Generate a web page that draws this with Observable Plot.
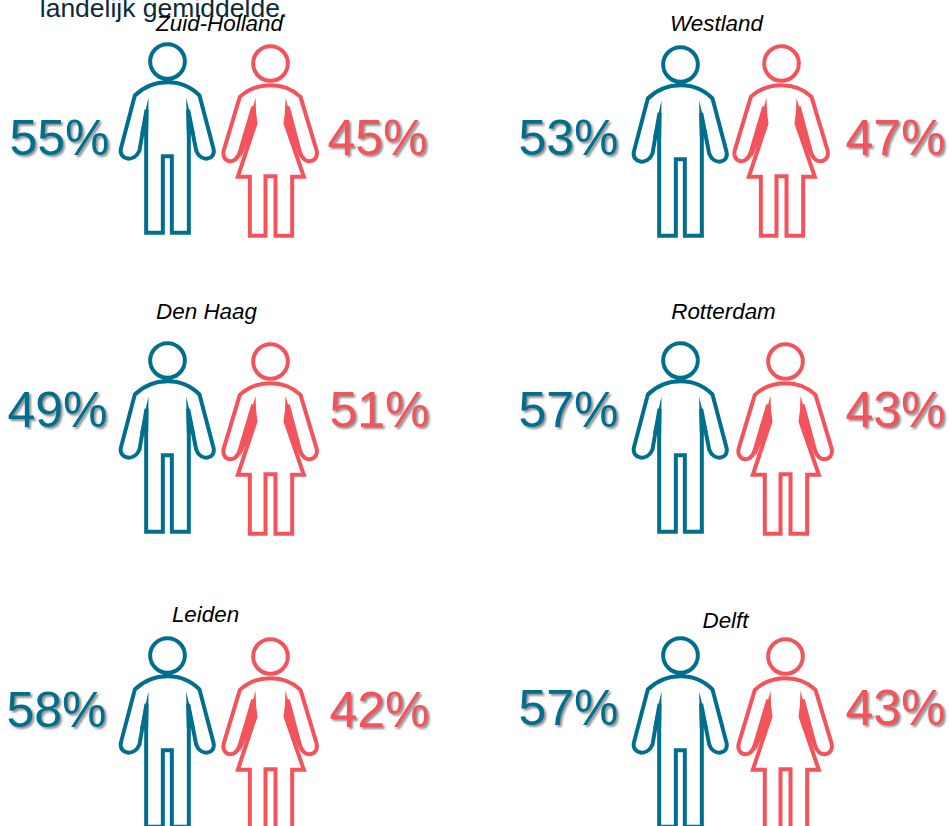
<!DOCTYPE html>
<html>
<head>
<meta charset="utf-8">
<script src="https://cdn.jsdelivr.net/npm/d3@7"></script>
<script src="https://cdn.jsdelivr.net/npm/@observablehq/plot@0.6"></script>
<style>html,body{margin:0;padding:0;background:#fff}svg{display:block}</style>
</head>
<body>
<div id="chart"></div>
<script>
// values
const regions = ["Zuid-Holland", "Westland", "Den Haag", "Rotterdam", "Leiden", "Delft"];
const menShare = [55, 53, 49, 57, 58, 57];
const womenShare = [45, 47, 51, 43, 42, 43];
const clippedNote = "landelijk gemiddelde.";

// layout of the infographic, in pixels
const labelX = [219, 716, 206, 723, 205, 725];
const labelY = [30, 30, 318, 318, 621, 627];
const manX = [167, 680, 167, 680, 167, 680];
const manY = [61, 64, 360, 360, 655, 655];
const womanX = [270, 781, 270, 785, 270, 785];
const womanY = [63, 63, 361, 361, 656, 656];
const menTextX = [59, 568, 57, 568, 56, 568];
const menTextY = [154, 154, 426, 426, 726, 724];
const womenTextX = [377, 895, 379, 895, 379, 895];
const womenTextY = [154, 154, 426, 426, 726, 724];

const teal = "#006f8e";
const coral = "#f3545c";
const u = 1 / 3;

const manOutline = {draw(c) {
  c.moveTo(52*u, 0); c.arc(0, 0, 52*u, 0, 2*Math.PI); c.closePath();
  c.moveTo(0, 62*u);
  c.quadraticCurveTo(58*u, 62*u, 96*u, 102*u);
  c.lineTo(138*u, 262*u);
  c.bezierCurveTo(146*u, 295*u, 100*u, 305*u, 86*u, 267*u);
  c.lineTo(62*u, 145*u); c.lineTo(64*u, 210*u); c.lineTo(64*u, 514*u);
  c.lineTo(13*u, 514*u); c.lineTo(13*u, 284*u); c.lineTo(-14*u, 284*u); c.lineTo(-14*u, 514*u);
  c.lineTo(-64*u, 514*u); c.lineTo(-64*u, 210*u); c.lineTo(-63*u, 145*u); c.lineTo(-84*u, 267*u);
  c.bezierCurveTo(-100*u, 305*u, -146*u, 295*u, -140*u, 262*u);
  c.lineTo(-98*u, 102*u);
  c.quadraticCurveTo(-58*u, 62*u, 0, 62*u);
  c.closePath();
}};
const manWedges = {draw(c) {
  c.moveTo(56*u, 108*u); c.lineTo(82*u, 217*u); c.lineTo(58*u, 217*u); c.closePath();
  c.moveTo(-57*u, 108*u); c.lineTo(-82*u, 217*u); c.lineTo(-58*u, 217*u); c.closePath();
}};
const womanOutline = {draw(c) {
  c.moveTo(52*u, 0); c.arc(0, 0, 52*u, 0, 2*Math.PI); c.closePath();
  c.moveTo(0, 65*u);
  c.quadraticCurveTo(55*u, 65*u, 90*u, 100*u);
  c.lineTo(138*u, 260*u);
  c.bezierCurveTo(148*u, 295*u, 100*u, 310*u, 88*u, 265*u);
  c.lineTo(52*u, 130*u); c.lineTo(45*u, 180*u); c.lineTo(100*u, 340*u);
  c.lineTo(65*u, 340*u); c.lineTo(65*u, 517*u); c.lineTo(15*u, 517*u); c.lineTo(15*u, 338*u);
  c.lineTo(-15*u, 338*u); c.lineTo(-15*u, 517*u); c.lineTo(-62*u, 517*u); c.lineTo(-62*u, 340*u);
  c.lineTo(-98*u, 340*u); c.lineTo(-45*u, 180*u); c.lineTo(-52*u, 130*u); c.lineTo(-92*u, 265*u);
  c.bezierCurveTo(-105*u, 310*u, -150*u, 295*u, -140*u, 260*u);
  c.lineTo(-92*u, 100*u);
  c.quadraticCurveTo(-55*u, 65*u, 0, 65*u);
  c.closePath();
}};
const womanWedges = {draw(c) {
  c.moveTo(45*u, 103*u); c.lineTo(90*u, 265*u); c.lineTo(90*u, 285*u); c.lineTo(42*u, 180*u); c.closePath();
  c.moveTo(-45*u, 103*u); c.lineTo(-90*u, 265*u); c.lineTo(-90*u, 285*u); c.lineTo(-42*u, 180*u); c.closePath();
}};

const panels = regions.map((region, i) => ({
  region, men: menShare[i], women: womenShare[i],
  lx: labelX[i], ly: labelY[i], mx: manX[i], my: manY[i], wx: womanX[i], wy: womanY[i],
  mtx: menTextX[i], mty: menTextY[i], wtx: womenTextX[i], wty: womenTextY[i]
}));

const shareText = {
  fontFamily: "'Liberation Sans', sans-serif",
  fontSize: 50,
  textAnchor: "middle",
  lineAnchor: "bottom",
  imageFilter: "drop-shadow(2px 2px 1.2px rgba(0,0,0,0.45))"
};

const chart = Plot.plot({
  width: 950, height: 826, margin: 0,
  x: {type: "identity", axis: null},
  y: {type: "identity", axis: null},
  style: {background: "transparent", overflow: "hidden"},
  marks: [
    Plot.text([clippedNote], {x: () => 163, y: () => 16, text: d => d, fontFamily: "'Liberation Sans', sans-serif", fontSize: 26.5, fill: "#0b2a38", textAnchor: "middle", lineAnchor: "bottom"}),
    Plot.dot(panels, {x: "mx", y: "my", symbol: manOutline, fill: "none", stroke: teal, strokeWidth: 4, strokeLinejoin: "miter"}),
    Plot.dot(panels, {x: "mx", y: "my", symbol: manWedges, fill: teal, stroke: "none"}),
    Plot.dot(panels, {x: "wx", y: "wy", symbol: womanOutline, fill: "none", stroke: coral, strokeWidth: 4, strokeLinejoin: "miter"}),
    Plot.dot(panels, {x: "wx", y: "wy", symbol: womanWedges, fill: coral, stroke: "none"}),
    Plot.text(panels, {x: "lx", y: "ly", text: "region", fontFamily: "'Liberation Sans', sans-serif", fontStyle: "italic", fontSize: 22.4, fill: "#000", textAnchor: "middle", lineAnchor: "bottom"}),
    Plot.text(panels, {x: "mtx", y: "mty", text: d => d.men + "%", fill: teal, ...shareText}),
    Plot.text(panels, {x: "wtx", y: "wty", text: d => d.women + "%", fill: coral, ...shareText})
  ]
});
document.getElementById("chart").append(chart);
</script>
</body>
</html>
